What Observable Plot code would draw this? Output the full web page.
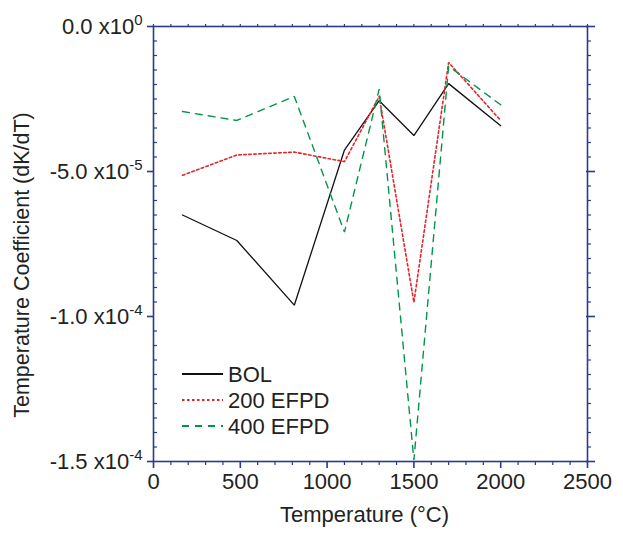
<!DOCTYPE html>
<html><head><meta charset="utf-8">
<script src="https://cdn.jsdelivr.net/npm/d3@7"></script>
<script src="https://cdn.jsdelivr.net/npm/@observablehq/plot@0.6"></script>
<style>
body{margin:0;background:#fff;}
svg{font-family:"Liberation Sans",Arial,Helvetica,sans-serif;}
</style>
</head><body><div id="chart"></div>
<script>
// Data (temperature in °C; coefficients in units of 1e-6 dK/dT)
const temps = [167, 480, 811, 1100, 1300, 1500, 1700, 2000];
const bol = [-65.0, -73.8, -96.1, -42.6, -25.6, -37.6, -19.7, -34.2];
const efpd200 = [-51.3, -44.3, -43.3, -46.6, -24.1, -95.1, -12.4, -32.4];
const efpd400 = [-29.3, -32.4, -24.1, -70.9, -21.6, -149.5, -13.7, -27.0];
const seriesNames = ["BOL", "200 EFPD", "400 EFPD"];
const xTicks = [0, 500, 1000, 1500, 2000, 2500];
const yTicks = [0, -5e-5, -1e-4, -1.5e-4];
const yTickLabels = ["0.0 x10|0", "-5.0 x10|-5", "-1.0 x10|-4", "-1.5 x10|-4"];

const navy = "#2b3a8c";
const colors = {"BOL": "#111111", "200 EFPD": "#e3262b", "400 EFPD": "#00964a"};
const dashes = {"BOL": null, "200 EFPD": "2.5,2.5", "400 EFPD": "7,6"};
const widths = {"BOL": 1.3, "200 EFPD": 1.6, "400 EFPD": 1.4};

const rows = [];
[bol, efpd200, efpd400].forEach((vals, i) => {
  vals.forEach((v, j) => rows.push({series: seriesNames[i], t: temps[j], v: v * 1e-6}));
});

const xMinor = d3.range(0, 2501, 100).filter(d => !xTicks.includes(d));
const yAll = d3.range(0, 31).map(i => -i * 5e-6);
const yMinor = yAll.filter((d, i) => i % 10 !== 0);

const fs = 22;
const chart = Plot.plot({
  width: 623, height: 534,
  marginLeft: 153, marginRight: 36, marginTop: 26, marginBottom: 73,
  x: {domain: [0, 2500]},
  y: {domain: [-1.5e-4, 0]},
  style: {fontFamily: '"Liberation Sans", Arial, sans-serif', background: "#fff"},
  marks: [
    ...seriesNames.map(s => Plot.line(rows.filter(r => r.series === s), {
      x: "t", y: "v", stroke: colors[s], strokeWidth: widths[s],
      strokeDasharray: dashes[s], strokeLinejoin: "miter"
    })),
    Plot.frame({stroke: navy, strokeWidth: 1.6}),
    // bottom axis
    Plot.axisX({anchor: "bottom", ticks: xTicks, tickSize: 7, tickPadding: 5, stroke: navy, strokeWidth: 1.6,
      fill: "#222", fontSize: fs, label: null, tickFormat: d => String(d)}),
    Plot.axisX({anchor: "bottom", ticks: xMinor, tickSize: 4, stroke: navy, strokeWidth: 1.2, label: null, tickFormat: () => ""}),
    // top axis
    Plot.axisX({anchor: "top", ticks: xTicks.concat(xMinor), tickSize: 3, stroke: navy, strokeWidth: 1.2, label: null, tickFormat: () => ""}),
    // left axis
    Plot.axisY({anchor: "left", ticks: yTicks, tickSize: 6, tickPadding: 5, stroke: navy, strokeWidth: 1.6,
      fill: "#222", fontSize: fs, label: null, tickFormat: (d, i) => yTickLabels[yTicks.indexOf(d)]}),
    Plot.axisY({anchor: "left", ticks: yMinor, tickSize: -4, stroke: navy, strokeWidth: 1.2, label: null, tickFormat: () => ""}),
    // right axis
    Plot.axisY({anchor: "right", ticks: yTicks, tickSize: 7, stroke: navy, strokeWidth: 1.6, label: null, tickFormat: () => ""}),
    Plot.axisY({anchor: "right", ticks: yTicks, tickSize: -2, stroke: navy, strokeWidth: 1.6, label: null, tickFormat: () => ""}),
    Plot.axisY({anchor: "right", ticks: yMinor, tickSize: 3, stroke: navy, strokeWidth: 1.2, label: null, tickFormat: () => ""}),
    // axis titles
    Plot.text(["Temperature (°C)"], {frameAnchor: "bottom", textAnchor: "middle", dx: -6, dy: 60, fontSize: fs, fill: "#222", text: d => d}),
    Plot.text(["Temperature Coefficient (dK/dT)"], {frameAnchor: "left", textAnchor: "middle", dx: -131, dy: 21, rotate: -90, fontSize: 21.5, fill: "#222", text: d => d})
  ]
});

document.getElementById("chart").appendChild(chart);
const svg = d3.select(chart);

// superscripts on y tick labels
svg.selectAll("text").each(function() {
  const t = this.textContent;
  if (t.includes("|")) {
    const [base, exp] = t.split("|");
    const el = d3.select(this);
    el.text(null);
    el.append("tspan").text(base);
    el.append("tspan").attr("font-size", 15).attr("dy", "-0.55em").text(exp);
  }
});

// legend
const lg = svg.append("g").attr("font-size", fs).attr("fill", "#222").attr("text-anchor", "start");
seriesNames.forEach((s, i) => {
  const y = 374 + i * 26;
  lg.append("line").attr("x1", 182).attr("x2", 223).attr("y1", y).attr("y2", y)
    .attr("stroke", colors[s]).attr("stroke-width", widths[s] + 0.5)
    .attr("stroke-dasharray", dashes[s]);
  lg.append("text").attr("x", 228).attr("y", y).attr("dy", "0.36em").text(s);
});
</script>
</body></html>
